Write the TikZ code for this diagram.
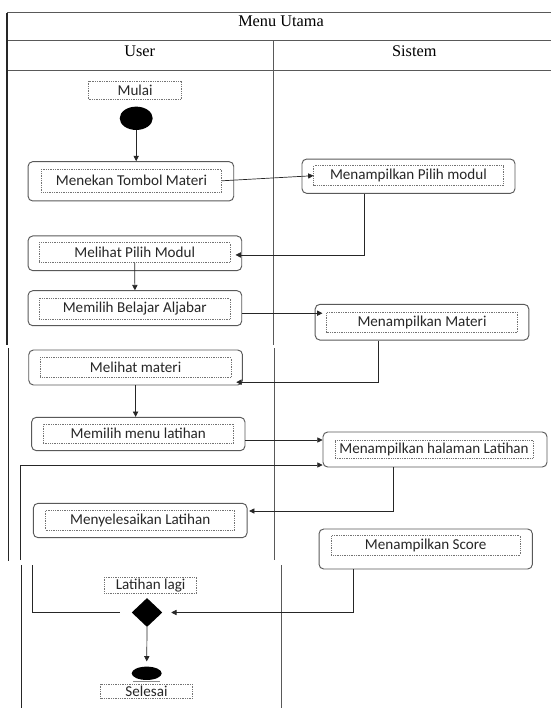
\documentclass[tikz,border=0pt]{standalone}
\usepackage{fontspec}
\setmainfont{Liberation Serif}
\newfontfamily\calibri{Carlito}
\usetikzlibrary{arrows.meta,shapes.geometric}

\begin{document}
\begin{tikzpicture}[x=0.03cm,y=-0.03cm,
    lane/.style={draw=black!65,line width=0.6pt},
    border/.style={draw=black!85,line width=1.1pt,dash pattern=on 0.4pt off 0.4pt},
    head/.style={font=\fontsize{13.9}{16}\selectfont,anchor=base,inner sep=0pt},
    act/.style={draw=black!65,line width=0.8pt,rounded corners=4pt,minimum width=6.41cm,minimum height=1.05cm,inner sep=0pt},
    lbl/.style={draw=black!55,densely dotted,line width=0.5pt,minimum width=5.72cm,minimum height=0.6cm,inner sep=0pt,font=\calibri\fontsize{12.9}{15}\selectfont,text=black!85},
    link/.style={draw=black!85,line width=0.6pt},
    flow/.style={link,-{Triangle[length=4.5pt,width=4.5pt]}}]
    \useasboundingbox (0,0) rectangle (551,708);
    \foreach \y in {12.7,40.7,70} {
      \draw[lane] (7,\y) -- (551,\y);
    }
    \foreach \ya/\yb/\xl/\xm in {12.7/345/7/273.4,348/560/8.3/274,565/708/21.5/281.5} {
      \draw[border] (\xl,\ya) -- (\xl,\yb);
      \draw[lane] (\xm,{max(\ya,40.7)}) -- (\xm,\yb);
    }
    \node[head] (menu) at (281,26.7) {Menu Utama};
    \node[head] (user) at (139.7,56.7) {User};
    \node[head] (sistem) at (414.3,56.7) {Sistem};

    \node[lbl,minimum width=2.79cm,minimum height=0.54cm] (mulai) at (135.1,90) {Mulai};
    \node[ellipse,fill=black,minimum width=0.99cm,minimum height=0.7cm,inner sep=0pt] (start) at (136.2,118.3) {};

    \node[act,minimum width=6.17cm,minimum height=1.18cm] (menekan) at (130.9,181.3) {};
    \node[lbl,minimum width=5.4cm,minimum height=0.69cm] (menekanT) at (131.5,180.8) {Menekan Tombol Materi};
    \node[act,minimum width=6.39cm,minimum height=1.03cm] (pilih) at (408.5,176.2) {};
    \node[lbl,minimum width=5.68cm] (pilihT) at (408.4,175.7) {Menampilkan Pilih modul};
    \node[act,minimum height=1.04cm] (melihatPilih) at (134.9,253.3) {};
    \node[lbl] (melihatPilihT) at (134.7,252.7) {Melihat Pilih Modul};
    \node[act] (belajar) at (134.9,308.2) {};
    \node[lbl,minimum height=0.63cm] (belajarT) at (134.7,308.8) {Memilih Belajar Aljabar};
    \node[act,minimum height=1.07cm] (materi) at (422,322.2) {};
    \node[lbl,minimum height=0.61cm] (materiT) at (422,322.5) {Menampilkan Materi};
    \node[act] (melihatMateri) at (135.6,367.5) {};
    \node[lbl] (melihatMateriT) at (135.6,367.7) {Melihat materi};
    \node[act,minimum width=6.4cm,minimum height=1cm] (menuLatihan) at (138.3,434) {};
    \node[lbl,minimum height=0.58cm] (menuLatihanT) at (138.3,433.7) {Memilih menu latihan};
    \node[act,minimum width=6.72cm] (halaman) at (435,449.5) {};
    \node[lbl,minimum width=5.94cm,minimum height=0.54cm] (halamanT) at (434,449) {Menampilkan halaman Latihan};
    \node[act,minimum height=1.03cm] (selesaiLatihan) at (140.2,520.5) {};
    \node[lbl,minimum width=5.67cm] (selesaiLatihanT) at (140.2,520) {Menyelesaikan Latihan};
    \node[act,minimum width=6.4cm,minimum height=1.2cm] (score) at (425.7,549) {};
    \node[lbl,minimum width=5.66cm,minimum height=0.58cm] (scoreT) at (425.7,545.3) {Menampilkan Score};

    \node[lbl,minimum width=2.77cm,minimum height=0.48cm] (lagi) at (150.6,585.3) {Latihan lagi};
    \node[diamond,fill=black,minimum width=0.92cm,minimum height=0.87cm,inner sep=0pt] (decision) at (147,612.5) {};
    \node[ellipse,fill=black,minimum width=0.9cm,minimum height=0.4cm,inner sep=0pt] (stop) at (146.7,673.3) {};
    \draw[black!45,line width=0.5pt] (133,680.8) -- (160,680.8);
    \node[lbl,minimum width=2.75cm,minimum height=0.42cm] (selesai) at (146.5,691.3) {Selesai};

    \coordinate (loopA) at (32.5,565);
    \coordinate (loopB) at (20.7,560);

    \draw[flow] (start) -- (start |- menekan.north);
    \draw[flow] (menekanT.east) -- (pilihT.west);
    \draw[flow] ([xshift=-1.335cm]pilih.south) |- ([xshift=-0.2cm,yshift=-0.05cm]melihatPilih.east);
    \draw[flow] (melihatPilihT.south) -- (belajar.north);
    \draw[flow] ([yshift=-0.15cm]belajar.east) -- ([yshift=-0.15cm,xshift=-0.12cm]belajar.east -| materiT.west);
    \draw[flow] ([xshift=-1.3cm]materi.south) |- ([xshift=-0.2cm,yshift=-0.44cm]melihatMateri.east);
    \draw[flow] (melihatMateri.south) -- (melihatMateri.south |- menuLatihan.north);
    \draw[flow] ([yshift=-0.18cm]menuLatihan.east) -- ([yshift=-0.18cm]menuLatihan.east -| halaman.west);
    \draw[flow] ([xshift=-1.24cm]halaman.south) |- ([xshift=0.05cm,yshift=0.285cm]selesaiLatihan.east);
    \draw[flow,shorten >=0.26cm] ([xshift=-2.18cm]score.south) |- (decision.east);
    \draw[link] ([xshift=-0.35cm]decision.west) -| (loopA);
    \draw[flow] (loopB) |- ([yshift=-0.465cm]halaman.west);
    \draw[flow,shorten >=0.15cm] (decision.south) -- (stop.north);
\end{tikzpicture}
\end{document}
